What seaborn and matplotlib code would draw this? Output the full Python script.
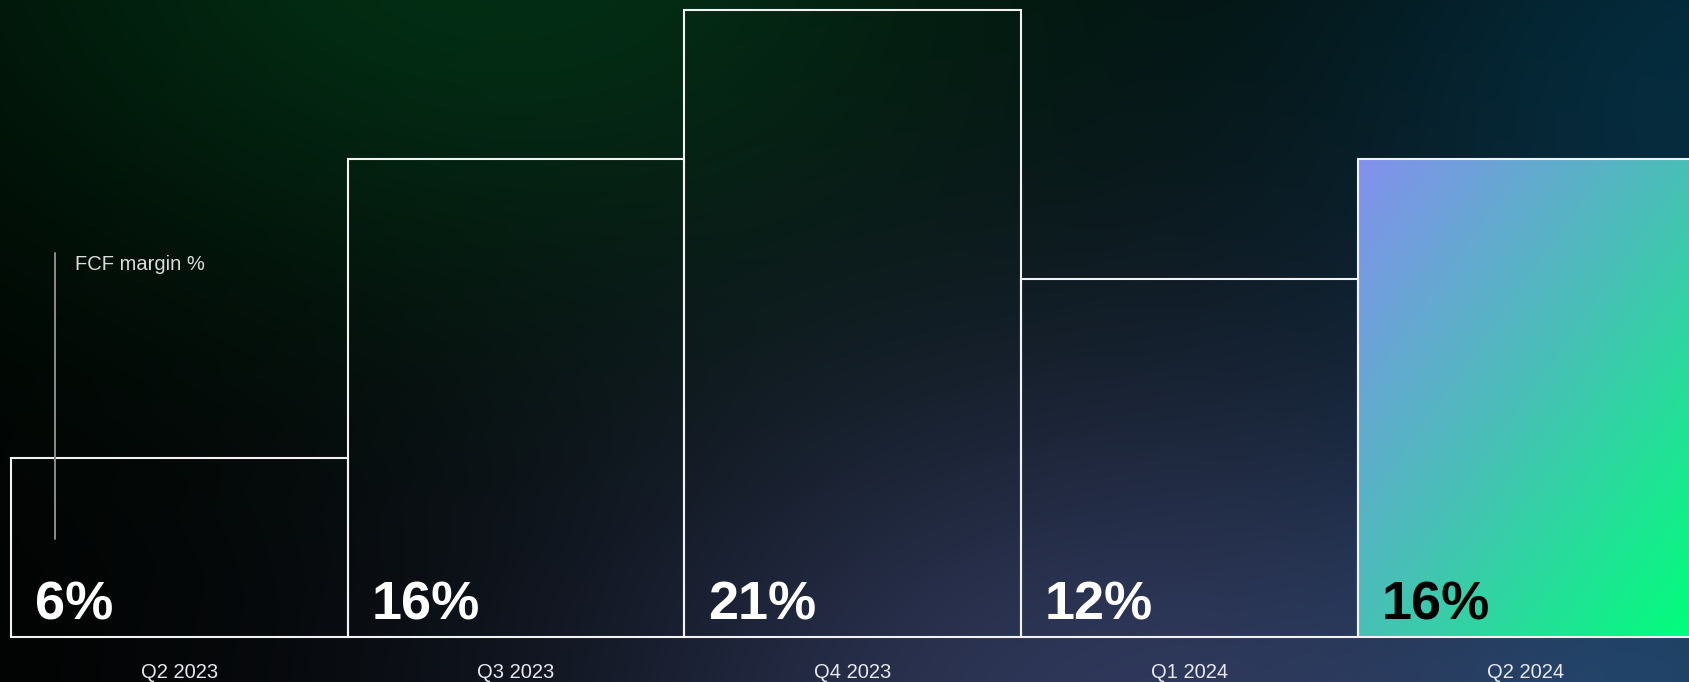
import numpy as np
import pandas as pd
import matplotlib
matplotlib.use("Agg")
import matplotlib.pyplot as plt
import seaborn as sns
from matplotlib.colors import to_rgb

# FCF margin by quarter
quarters = ["Q2 2023", "Q3 2023", "Q4 2023", "Q1 2024", "Q2 2024"]
fcf_margin = [6, 16, 21, 12, 16]
metric_label = "FCF margin %"

W, H, DPI = 1690, 682, 100

sns.set_theme(style="white")
plt.rcParams["font.family"] = ["Liberation Sans", "DejaVu Sans"]

fig = plt.figure(figsize=(W / DPI, H / DPI), dpi=DPI)

# ---- dark glowing backdrop -------------------------------------------------
yy, xx = np.mgrid[0:H, 0:W].astype(float)
bg_img = np.zeros((H, W, 3)) + np.array(to_rgb("#010201"))


def glow(cx, cy, rx, ry, color, strength=1.0):
    w = np.exp(-(((xx - cx) / rx) ** 2 + ((yy - cy) / ry) ** 2))
    return w[..., None] * np.array(to_rgb(color)) * strength


bg_img += glow(480, -60, 600, 360, "#012c12")
bg_img += glow(1760, 60, 460, 360, "#02283a")
bg_img += glow(1120, 740, 600, 430, "#2e3558")
bg_img += glow(1720, 700, 320, 300, "#0c2a40")
bg_img = np.clip(bg_img, 0, 1)

bg = fig.add_axes([0, 0, 1, 1], zorder=-1)
bg.imshow(bg_img, aspect="auto", extent=[0, 1, 0, 1], origin="upper")
bg.set_axis_off()

# ---- bars --------------------------------------------------------------------
px_per_unit_y = 29.87
ax_bottom_px = 45
ax_height_px = H - ax_bottom_px
ax = fig.add_axes([0, ax_bottom_px / H, 1, ax_height_px / H])
ax.set_facecolor("none")

df = pd.DataFrame({"quarter": quarters, "margin": fcf_margin})
sns.barplot(data=df, x="quarter", y="margin", width=1.0, color="white", ax=ax)

for p in ax.patches:
    p.set_facecolor("none")
    p.set_edgecolor("#f2f2f2")
    p.set_linewidth(1.5)
    p.set_zorder(2)
    p.set_clip_on(False)

# gradient fill for the latest quarter
last = ax.patches[-1]
x0, w = last.get_x(), last.get_width()
h = last.get_height()
gy, gx = np.mgrid[0:1:200j, 0:1:200j]
t = (gx + gy) / 2.0
stops = [(0.0, "#8490ee"), (0.5, "#48c0b6"), (1.0, "#00ff7a")]
pos = np.array([s[0] for s in stops])
cols = np.array([to_rgb(s[1]) for s in stops])
grad = np.stack([np.interp(t, pos, cols[:, k]) for k in range(3)], axis=-1)
im = ax.imshow(grad, extent=[x0, x0 + w, 0, h], origin="upper",
               aspect="auto", zorder=1, interpolation="bilinear")
im.set_clip_path(last)

bar_px = 336.7
left_px = 10.8
ax.set_xlim(-0.5 - left_px / bar_px, -0.5 + (W - left_px) / bar_px)
ax.set_ylim(0, ax_height_px / px_per_unit_y)

# value labels inside each bar
for i, (p, v) in enumerate(zip(ax.patches, fcf_margin)):
    ax.text(p.get_x() + 24 / bar_px, 17 / px_per_unit_y, f"{v}%",
            fontsize=39, fontweight="bold",
            color="black" if i == len(fcf_margin) - 1 else "white",
            ha="left", va="baseline", zorder=3)

# axis styling
for s in ax.spines.values():
    s.set_visible(False)
ax.set_yticks([])
ax.set_xlabel("")
ax.set_ylabel("")
ax.tick_params(axis="x", length=0, pad=19, labelsize=14.5, labelcolor="#e8e8ee")

# metric marker: thin vertical rule with caption
ax.plot([55 / W, 55 / W], [(637 - 539) / ax_height_px, (637 - 253) / ax_height_px],
        transform=ax.transAxes, color="#8c8c8c", lw=1.4, zorder=3, clip_on=False)
ax.text(75 / W, (637 - 270) / ax_height_px, metric_label, transform=ax.transAxes,
        fontsize=14.5, color="#dcdcdc", ha="left", va="baseline", zorder=3)

fig.savefig("out.png", dpi=DPI)
